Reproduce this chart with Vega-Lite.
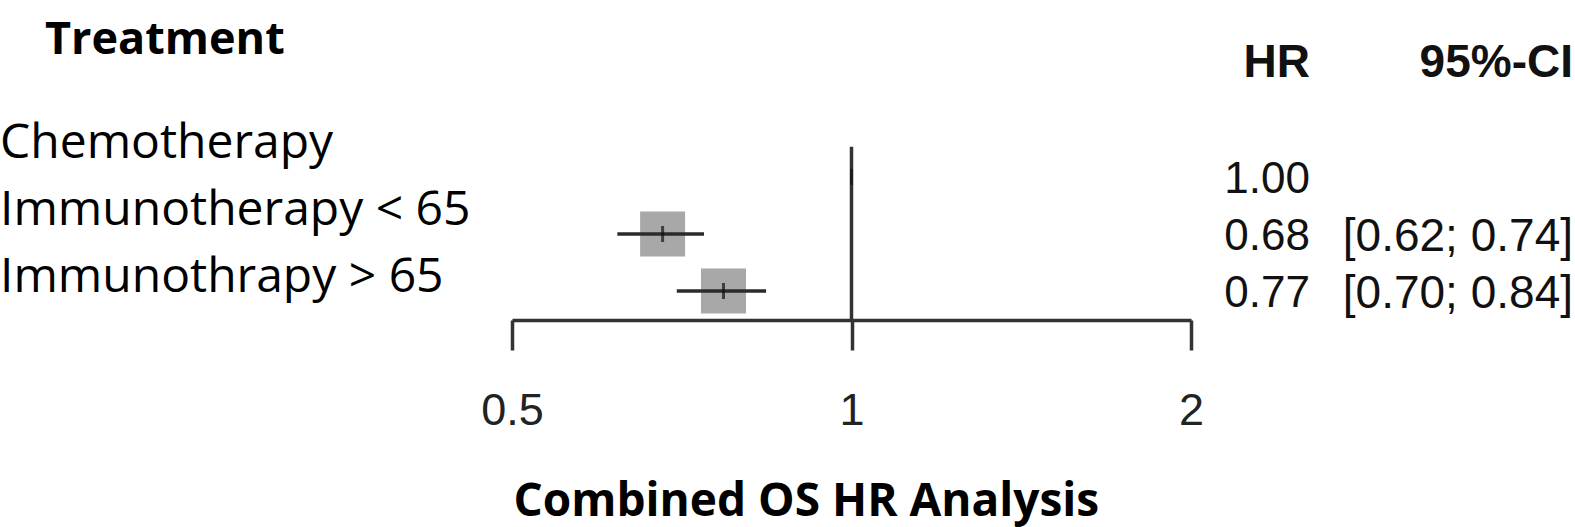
{
  "$schema": "https://vega.github.io/schema/vega-lite/v6.json",
  "padding": {"left": 0, "top": 0, "right": 0, "bottom": 20},
  "background": "white",
  "bounds": "flush",
  "spacing": 119,
  "config": {"view": {"stroke": null}},
  "datasets": {
    "rows": [
      {"treatment": "Chemotherapy", "row": 1, "hr": 1.0, "lower": null, "upper": null, "hrText": "1.00", "ciText": ""},
      {"treatment": "Immunotherapy < 65", "row": 2, "hr": 0.68, "lower": 0.62, "upper": 0.74, "hrText": "0.68", "ciText": "[0.62; 0.74]"},
      {"treatment": "Immunothrapy > 65", "row": 3, "hr": 0.77, "lower": 0.70, "upper": 0.84, "hrText": "0.77", "ciText": "[0.70; 0.84]"}
    ]
  },
  "hconcat": [
    {
      "width": 393,
      "height": 320,
      "layer": [
        {
          "data": {"values": [{"header": "Treatment"}]},
          "mark": {"type": "text", "align": "left", "baseline": "middle", "dx": 45, "font": "Open Sans", "fontWeight": "bold", "fontSize": 45, "color": "#000000"},
          "encoding": {
            "x": {"datum": 0, "type": "quantitative", "scale": {"domain": [0, 1]}, "axis": null},
            "y": {"datum": -0.552, "type": "quantitative", "scale": {"domain": [-1.149, 3.627], "reverse": true, "nice": false, "zero": false}, "axis": null},
            "text": {"field": "header"}
          }
        },
        {
          "data": {"name": "rows"},
          "mark": {"type": "text", "align": "left", "baseline": "middle", "font": "Open Sans", "fontSize": 48, "color": "#000000"},
          "encoding": {
            "x": {"datum": 0, "type": "quantitative"},
            "y": {"field": "row", "type": "quantitative"},
            "text": {"field": "treatment"}
          }
        }
      ]
    },
    {
      "width": 679,
      "height": 320,
      "data": {"name": "rows"},
      "layer": [
        {
          "data": {"values": [{"ref": 1, "top": 0.47, "bottom": 3.509}]},
          "mark": {"type": "rule", "color": "#333333", "strokeWidth": 3.5},
          "encoding": {
            "x": {"field": "ref", "type": "quantitative",
              "scale": {"type": "log", "domain": [0.5, 2], "nice": false},
              "axis": {"values": [0.5, 1, 2], "format": "~g", "grid": false,
                "domainColor": "#333333", "domainWidth": 3.5, "tickColor": "#333333", "tickWidth": 3.5, "tickSize": 30,
                "labelFont": "Liberation Sans", "labelFontSize": 45, "labelColor": "#222222", "labelPadding": 60, "labelBaseline": "middle",
                "labelFlush": false, "labelOverlap": false,
                "title": "Combined OS HR Analysis", "titleFont": "Open Sans", "titleFontWeight": "bold", "titleFontSize": 46, "titleColor": "#000000",
                "titleX": 1, "titleY": 181, "titleAlign": "left", "titleBaseline": "middle", "titleAnchor": null}},
            "y": {"field": "top", "type": "quantitative", "scale": {"domain": [-2.105, 3.509], "reverse": true, "nice": false, "zero": false}, "axis": null},
            "y2": {"field": "bottom"}
          }
        },
        {
          "transform": [{"filter": "datum.lower != null"}],
          "mark": {"type": "point", "shape": "square", "filled": true, "size": 2025, "color": "#a8a8a8", "opacity": 1},
          "encoding": {
            "x": {"field": "hr", "type": "quantitative"},
            "y": {"field": "row", "type": "quantitative"}
          }
        },
        {
          "transform": [{"filter": "datum.lower != null"}],
          "mark": {"type": "rule", "color": "#2b2b2b", "strokeWidth": 3.5},
          "encoding": {
            "x": {"field": "lower", "type": "quantitative"},
            "x2": {"field": "upper"},
            "y": {"field": "row", "type": "quantitative"}
          }
        },
        {
          "mark": {"type": "tick", "orient": "vertical", "size": 16, "thickness": 3, "color": "#111111"},
          "encoding": {
            "x": {"field": "hr", "type": "quantitative"},
            "y": {"field": "row", "type": "quantitative"}
          }
        }
      ]
    },
    {
      "width": 263,
      "height": 320,
      "layer": [
        {
          "data": {"values": [{"column": "HR", "label": "HR"}, {"column": "CI", "label": "95%-CI"}]},
          "mark": {"type": "text", "align": "right", "baseline": "middle", "font": "Liberation Sans", "fontWeight": "bold", "fontSize": 46, "color": "#111111"},
          "encoding": {
            "x": {"field": "column", "type": "nominal", "scale": {"type": "point", "domain": ["HR", "CI"], "padding": 0}, "axis": null},
            "y": {"datum": -1, "type": "quantitative", "scale": {"domain": [-2.105, 3.509], "reverse": true, "nice": false, "zero": false}, "axis": null},
            "text": {"field": "label"}
          }
        },
        {
          "data": {"name": "rows"},
          "mark": {"type": "text", "align": "right", "baseline": "middle", "dy": 3, "font": "Liberation Sans", "fontSize": 44, "color": "#111111"},
          "encoding": {
            "x": {"datum": "HR", "type": "nominal"},
            "y": {"field": "row", "type": "quantitative"},
            "text": {"field": "hrText"}
          }
        },
        {
          "data": {"name": "rows"},
          "mark": {"type": "text", "align": "right", "baseline": "middle", "dy": 3, "font": "Liberation Sans", "fontSize": 46, "color": "#111111"},
          "encoding": {
            "x": {"datum": "CI", "type": "nominal"},
            "y": {"field": "row", "type": "quantitative"},
            "text": {"field": "ciText"}
          }
        }
      ]
    }
  ]
}
